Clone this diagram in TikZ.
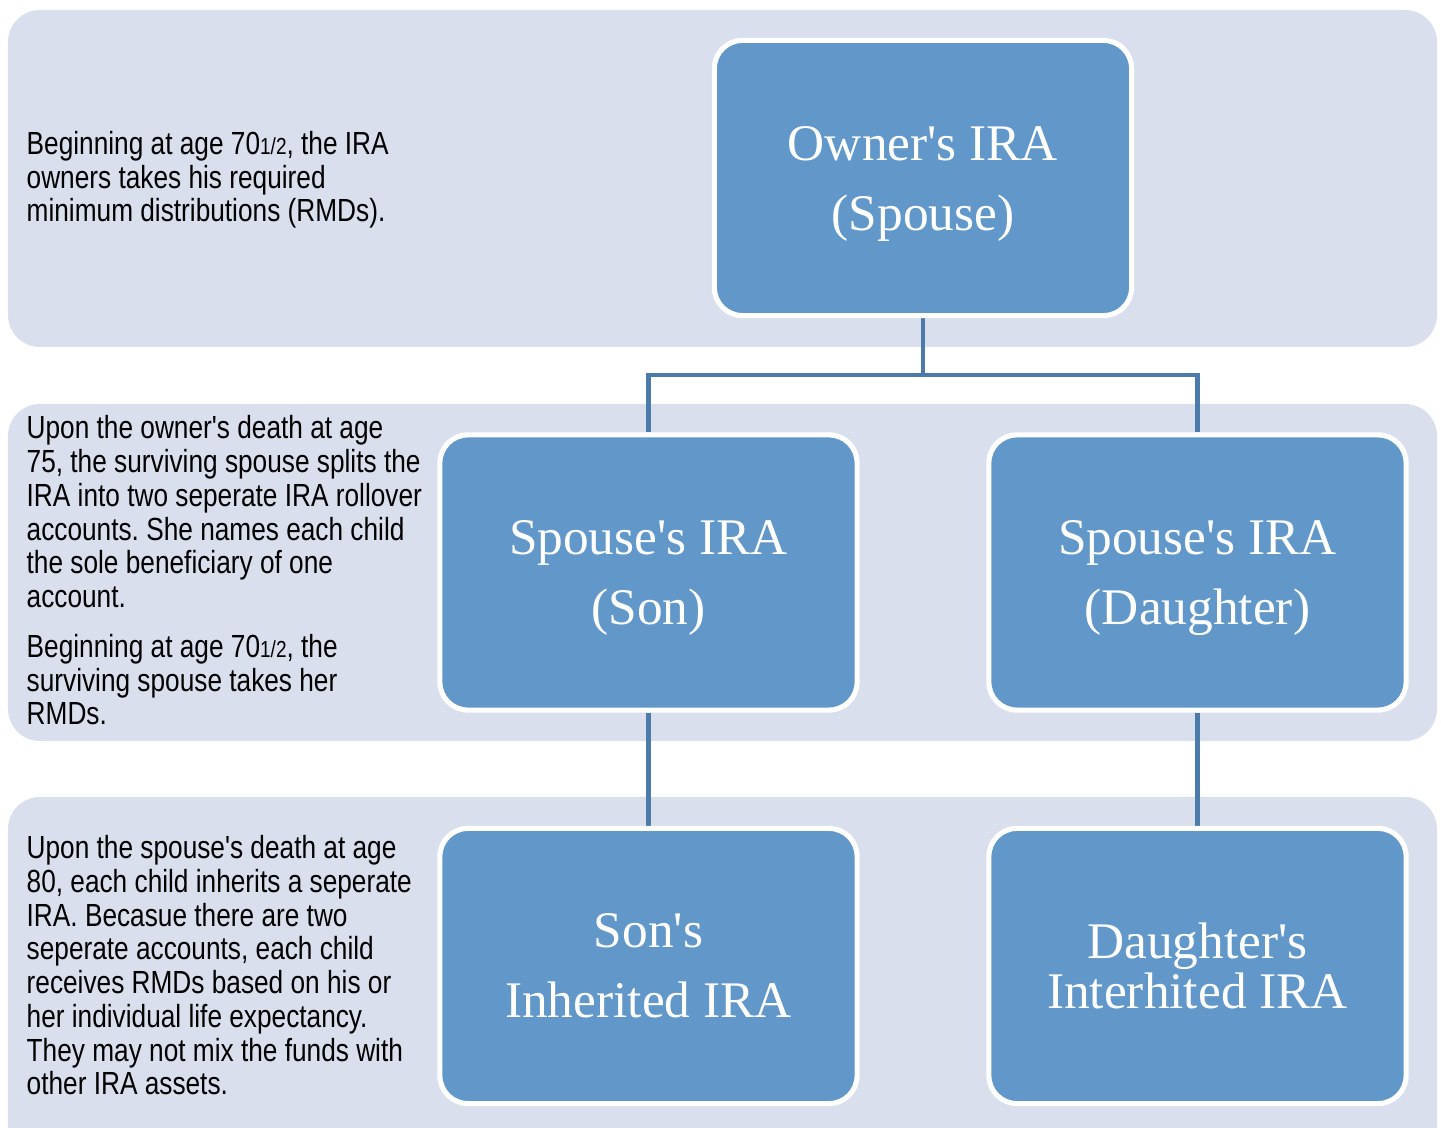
\documentclass[tikz,border=0pt]{standalone}
\usepackage{fontspec}
\setmainfont{Liberation Serif}[Ligatures=TeXOff]
\newfontfamily\notefont[FakeStretch=0.82]{Liberation Sans}
\usetikzlibrary{backgrounds}
\frenchspacing

\definecolor{bandgray}{HTML}{D9DFEC}
\definecolor{cardblue}{HTML}{6197C9}
\definecolor{linkblue}{HTML}{4B7BAB}

\newcommand\halfyr{{\fontsize{6.6pt}{7pt}\selectfont 1/2}}
\newcommand\cardlift{\rule{0pt}{12.9pt}}

\tikzset{
  band/.style={fill=bandgray, rounded corners=0.32cm},
  card/.style={fill=cardblue, draw=white, line width=1.45pt, rounded corners=0.28cm,
    minimum width=4.17cm, minimum height=2.75cm, inner sep=0pt, text=white,
    align=center, font=\fontsize{14.6pt}{20pt}\selectfont},
  note/.style={anchor=base west, inner sep=0pt, align=left,
    font=\notefont\fontsize{9.1pt}{9.6pt}\selectfont},
  link/.style={draw=linkblue, line width=1.3pt}
}

\begin{document}
\begin{tikzpicture}[x=0.01cm, y=-0.01cm]
\clip (0,0) rectangle (1441,1128);

% owner row (note anchored on its last line)
\node[card] (owner) at (923,178) {\cardlift Owner's IRA\\(Spouse)};
\node[note] (note1) at (26,222) {Beginning at age 70\halfyr, the IRA\\owners takes his required\\minimum distributions (RMDs).};

% spouse row
\node[card] (spouseson) at (648.5,572.5) {\cardlift Spouse's IRA\\(Son)};
\node[card] (spousedau) at (1197.5,572.5) {\cardlift Spouse's IRA\\(Daughter)};
\node[note] (note2) at (26,725) {Upon the owner's death at age\\75, the surviving spouse splits the\\IRA into two seperate IRA rollover\\accounts. She names each child\\the sole beneficiary of one\\account.\\[4.6pt]Beginning at age 70\halfyr, the\\surviving spouse takes her\\RMDs.};

% children row
\node[card] (soninh) at (648.5,966) {Son's\\Inherited IRA};
\node[card] (dauinh) at (1197.5,966) {Daughter's\\[-5.6pt]Interhited IRA};
\node[note] (note3) at (26,1095) {Upon the spouse's death at age\\80, each child inherits a seperate\\IRA. Becasue there are two\\seperate accounts, each child\\receives RMDs based on his or\\her individual life expectancy.\\They may not mix the funds with\\other IRA assets.};

\begin{scope}[on background layer]
\fill[band] (8,10) rectangle (1437,347);
\fill[band] (8,404) rectangle (1437,741);
\fill[band] (8,797) rectangle (1437,1170);

\coordinate (split) at (923,375);
\draw[link] (owner.south) -- (split);
\draw[link] (spouseson.north) |- (split) -| (spousedau.north);
\draw[link] (spouseson.south) -- (soninh.north);
\draw[link] (spousedau.south) -- (dauinh.north);
\end{scope}
\end{tikzpicture}
\end{document}
